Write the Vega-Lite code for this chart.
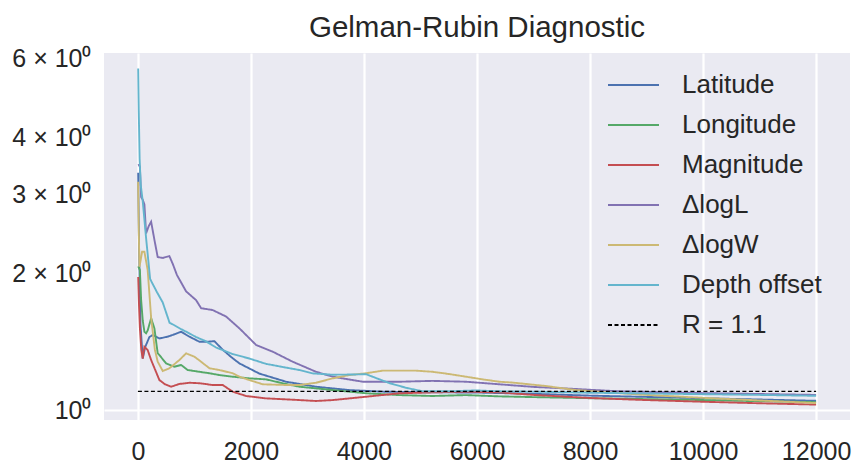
{
  "$schema": "https://vega.github.io/schema/vega-lite/v6.json",
  "width": 746,
  "height": 367,
  "autosize": {"type": "none"},
  "padding": {"left": 104, "top": 53, "right": 3, "bottom": 43},
  "background": "white",
  "title": {
    "text": "Gelman-Rubin Diagnostic",
    "font": "Liberation Sans",
    "fontSize": 29.5,
    "fontWeight": "normal",
    "color": "#262626",
    "anchor": "middle",
    "baseline": "alphabetic",
    "offset": 14,
    "dy": 34
  },
  "datasets": {
    "chains": [
      {"series": "Latitude", "iteration": 5, "rhat": 3.35},
      {"series": "Latitude", "iteration": 20, "rhat": 2.3},
      {"series": "Latitude", "iteration": 45, "rhat": 1.55},
      {"series": "Latitude", "iteration": 85, "rhat": 1.3},
      {"series": "Latitude", "iteration": 130, "rhat": 1.38},
      {"series": "Latitude", "iteration": 203, "rhat": 1.45},
      {"series": "Latitude", "iteration": 262, "rhat": 1.466},
      {"series": "Latitude", "iteration": 380, "rhat": 1.44},
      {"series": "Latitude", "iteration": 527, "rhat": 1.453},
      {"series": "Latitude", "iteration": 616, "rhat": 1.466},
      {"series": "Latitude", "iteration": 764, "rhat": 1.49},
      {"series": "Latitude", "iteration": 911, "rhat": 1.453},
      {"series": "Latitude", "iteration": 1088, "rhat": 1.416},
      {"series": "Latitude", "iteration": 1235, "rhat": 1.416},
      {"series": "Latitude", "iteration": 1353, "rhat": 1.42},
      {"series": "Latitude", "iteration": 1500, "rhat": 1.36},
      {"series": "Latitude", "iteration": 1650, "rhat": 1.31},
      {"series": "Latitude", "iteration": 1796, "rhat": 1.268},
      {"series": "Latitude", "iteration": 2149, "rhat": 1.204},
      {"series": "Latitude", "iteration": 2622, "rhat": 1.155},
      {"series": "Latitude", "iteration": 3152, "rhat": 1.126},
      {"series": "Latitude", "iteration": 3741, "rhat": 1.107},
      {"series": "Latitude", "iteration": 4331, "rhat": 1.098},
      {"series": "Latitude", "iteration": 5000, "rhat": 1.095},
      {"series": "Latitude", "iteration": 6000, "rhat": 1.093},
      {"series": "Latitude", "iteration": 7000, "rhat": 1.086},
      {"series": "Latitude", "iteration": 8000, "rhat": 1.076},
      {"series": "Latitude", "iteration": 9000, "rhat": 1.069},
      {"series": "Latitude", "iteration": 10000, "rhat": 1.062},
      {"series": "Latitude", "iteration": 11000, "rhat": 1.055},
      {"series": "Latitude", "iteration": 12000, "rhat": 1.048},

      {"series": "Longitude", "iteration": 5, "rhat": 2.08},
      {"series": "Longitude", "iteration": 35, "rhat": 2.04},
      {"series": "Longitude", "iteration": 57, "rhat": 1.75},
      {"series": "Longitude", "iteration": 85, "rhat": 1.58},
      {"series": "Longitude", "iteration": 115, "rhat": 1.49},
      {"series": "Longitude", "iteration": 145, "rhat": 1.478},
      {"series": "Longitude", "iteration": 173, "rhat": 1.5},
      {"series": "Longitude", "iteration": 234, "rhat": 1.596},
      {"series": "Longitude", "iteration": 292, "rhat": 1.516},
      {"series": "Longitude", "iteration": 350, "rhat": 1.335},
      {"series": "Longitude", "iteration": 380, "rhat": 1.323},
      {"series": "Longitude", "iteration": 499, "rhat": 1.268},
      {"series": "Longitude", "iteration": 646, "rhat": 1.247},
      {"series": "Longitude", "iteration": 764, "rhat": 1.258},
      {"series": "Longitude", "iteration": 881, "rhat": 1.226},
      {"series": "Longitude", "iteration": 1088, "rhat": 1.215},
      {"series": "Longitude", "iteration": 1265, "rhat": 1.206},
      {"series": "Longitude", "iteration": 1442, "rhat": 1.195},
      {"series": "Longitude", "iteration": 1677, "rhat": 1.185},
      {"series": "Longitude", "iteration": 1972, "rhat": 1.175},
      {"series": "Longitude", "iteration": 2268, "rhat": 1.169},
      {"series": "Longitude", "iteration": 2561, "rhat": 1.146},
      {"series": "Longitude", "iteration": 2857, "rhat": 1.126},
      {"series": "Longitude", "iteration": 3446, "rhat": 1.107},
      {"series": "Longitude", "iteration": 4037, "rhat": 1.089},
      {"series": "Longitude", "iteration": 4626, "rhat": 1.079},
      {"series": "Longitude", "iteration": 5215, "rhat": 1.074},
      {"series": "Longitude", "iteration": 5806, "rhat": 1.079},
      {"series": "Longitude", "iteration": 6395, "rhat": 1.072},
      {"series": "Longitude", "iteration": 7000, "rhat": 1.068},
      {"series": "Longitude", "iteration": 8000, "rhat": 1.062},
      {"series": "Longitude", "iteration": 9000, "rhat": 1.057},
      {"series": "Longitude", "iteration": 10000, "rhat": 1.052},
      {"series": "Longitude", "iteration": 11000, "rhat": 1.046},
      {"series": "Longitude", "iteration": 12000, "rhat": 1.041},

      {"series": "Magnitude", "iteration": 5, "rhat": 1.97},
      {"series": "Magnitude", "iteration": 20, "rhat": 1.7},
      {"series": "Magnitude", "iteration": 35, "rhat": 1.52},
      {"series": "Magnitude", "iteration": 60, "rhat": 1.36},
      {"series": "Magnitude", "iteration": 85, "rhat": 1.3},
      {"series": "Magnitude", "iteration": 115, "rhat": 1.38},
      {"series": "Magnitude", "iteration": 173, "rhat": 1.357},
      {"series": "Magnitude", "iteration": 234, "rhat": 1.29},
      {"series": "Magnitude", "iteration": 292, "rhat": 1.239},
      {"series": "Magnitude", "iteration": 380, "rhat": 1.165},
      {"series": "Magnitude", "iteration": 480, "rhat": 1.14},
      {"series": "Magnitude", "iteration": 587, "rhat": 1.126},
      {"series": "Magnitude", "iteration": 734, "rhat": 1.142},
      {"series": "Magnitude", "iteration": 911, "rhat": 1.149},
      {"series": "Magnitude", "iteration": 1088, "rhat": 1.146},
      {"series": "Magnitude", "iteration": 1323, "rhat": 1.136},
      {"series": "Magnitude", "iteration": 1500, "rhat": 1.136},
      {"series": "Magnitude", "iteration": 1677, "rhat": 1.098},
      {"series": "Magnitude", "iteration": 1914, "rhat": 1.074},
      {"series": "Magnitude", "iteration": 2268, "rhat": 1.061},
      {"series": "Magnitude", "iteration": 2857, "rhat": 1.052},
      {"series": "Magnitude", "iteration": 3152, "rhat": 1.047},
      {"series": "Magnitude", "iteration": 3446, "rhat": 1.052},
      {"series": "Magnitude", "iteration": 4037, "rhat": 1.07},
      {"series": "Magnitude", "iteration": 4626, "rhat": 1.089},
      {"series": "Magnitude", "iteration": 5215, "rhat": 1.094},
      {"series": "Magnitude", "iteration": 5806, "rhat": 1.098},
      {"series": "Magnitude", "iteration": 6395, "rhat": 1.094},
      {"series": "Magnitude", "iteration": 7000, "rhat": 1.08},
      {"series": "Magnitude", "iteration": 8000, "rhat": 1.063},
      {"series": "Magnitude", "iteration": 9000, "rhat": 1.052},
      {"series": "Magnitude", "iteration": 10000, "rhat": 1.043},
      {"series": "Magnitude", "iteration": 11000, "rhat": 1.035},
      {"series": "Magnitude", "iteration": 12000, "rhat": 1.028},

      {"series": "ΔlogL", "iteration": 10, "rhat": 3.5},
      {"series": "ΔlogL", "iteration": 35, "rhat": 3.45},
      {"series": "ΔlogL", "iteration": 57, "rhat": 2.96},
      {"series": "ΔlogL", "iteration": 85, "rhat": 2.92},
      {"series": "ΔlogL", "iteration": 115, "rhat": 2.85},
      {"series": "ΔlogL", "iteration": 145, "rhat": 2.46},
      {"series": "ΔlogL", "iteration": 190, "rhat": 2.55},
      {"series": "ΔlogL", "iteration": 234, "rhat": 2.61},
      {"series": "ΔlogL", "iteration": 292, "rhat": 2.38},
      {"series": "ΔlogL", "iteration": 350, "rhat": 2.18},
      {"series": "ΔlogL", "iteration": 439, "rhat": 2.17},
      {"series": "ΔlogL", "iteration": 557, "rhat": 2.19},
      {"series": "ΔlogL", "iteration": 620, "rhat": 2.1},
      {"series": "ΔlogL", "iteration": 690, "rhat": 1.99},
      {"series": "ΔlogL", "iteration": 853, "rhat": 1.83},
      {"series": "ΔlogL", "iteration": 1030, "rhat": 1.75},
      {"series": "ΔlogL", "iteration": 1118, "rhat": 1.68},
      {"series": "ΔlogL", "iteration": 1323, "rhat": 1.664},
      {"series": "ΔlogL", "iteration": 1560, "rhat": 1.61},
      {"series": "ΔlogL", "iteration": 1796, "rhat": 1.516},
      {"series": "ΔlogL", "iteration": 2091, "rhat": 1.393},
      {"series": "ΔlogL", "iteration": 2385, "rhat": 1.346},
      {"series": "ΔlogL", "iteration": 2738, "rhat": 1.279},
      {"series": "ΔlogL", "iteration": 3152, "rhat": 1.215},
      {"series": "ΔlogL", "iteration": 3446, "rhat": 1.185},
      {"series": "ΔlogL", "iteration": 3977, "rhat": 1.155},
      {"series": "ΔlogL", "iteration": 4626, "rhat": 1.155},
      {"series": "ΔlogL", "iteration": 5215, "rhat": 1.16},
      {"series": "ΔlogL", "iteration": 5806, "rhat": 1.155},
      {"series": "ΔlogL", "iteration": 6395, "rhat": 1.14},
      {"series": "ΔlogL", "iteration": 7000, "rhat": 1.125},
      {"series": "ΔlogL", "iteration": 7750, "rhat": 1.113},
      {"series": "ΔlogL", "iteration": 8500, "rhat": 1.1},
      {"series": "ΔlogL", "iteration": 9000, "rhat": 1.097},
      {"series": "ΔlogL", "iteration": 10000, "rhat": 1.09},
      {"series": "ΔlogL", "iteration": 11000, "rhat": 1.085},
      {"series": "ΔlogL", "iteration": 12000, "rhat": 1.08},

      {"series": "ΔlogW", "iteration": 3, "rhat": 3.2},
      {"series": "ΔlogW", "iteration": 15, "rhat": 2.5},
      {"series": "ΔlogW", "iteration": 27, "rhat": 2.075},
      {"series": "ΔlogW", "iteration": 50, "rhat": 2.15},
      {"series": "ΔlogW", "iteration": 74, "rhat": 2.24},
      {"series": "ΔlogW", "iteration": 115, "rhat": 2.24},
      {"series": "ΔlogW", "iteration": 173, "rhat": 2.04},
      {"series": "ΔlogW", "iteration": 234, "rhat": 1.6},
      {"series": "ΔlogW", "iteration": 300, "rhat": 1.36},
      {"series": "ΔlogW", "iteration": 350, "rhat": 1.28},
      {"series": "ΔlogW", "iteration": 439, "rhat": 1.22},
      {"series": "ΔlogW", "iteration": 557, "rhat": 1.237},
      {"series": "ΔlogW", "iteration": 734, "rhat": 1.29},
      {"series": "ΔlogW", "iteration": 853, "rhat": 1.335},
      {"series": "ΔlogW", "iteration": 1000, "rhat": 1.312},
      {"series": "ΔlogW", "iteration": 1118, "rhat": 1.279},
      {"series": "ΔlogW", "iteration": 1265, "rhat": 1.237},
      {"series": "ΔlogW", "iteration": 1442, "rhat": 1.226},
      {"series": "ΔlogW", "iteration": 1677, "rhat": 1.206},
      {"series": "ΔlogW", "iteration": 1796, "rhat": 1.185},
      {"series": "ΔlogW", "iteration": 1972, "rhat": 1.165},
      {"series": "ΔlogW", "iteration": 2208, "rhat": 1.14},
      {"series": "ΔlogW", "iteration": 2622, "rhat": 1.136},
      {"series": "ΔlogW", "iteration": 2857, "rhat": 1.136},
      {"series": "ΔlogW", "iteration": 3152, "rhat": 1.149},
      {"series": "ΔlogW", "iteration": 3446, "rhat": 1.175},
      {"series": "ΔlogW", "iteration": 3741, "rhat": 1.195},
      {"series": "ΔlogW", "iteration": 4037, "rhat": 1.206},
      {"series": "ΔlogW", "iteration": 4331, "rhat": 1.222},
      {"series": "ΔlogW", "iteration": 4626, "rhat": 1.222},
      {"series": "ΔlogW", "iteration": 4921, "rhat": 1.222},
      {"series": "ΔlogW", "iteration": 5215, "rhat": 1.215},
      {"series": "ΔlogW", "iteration": 5510, "rhat": 1.201},
      {"series": "ΔlogW", "iteration": 5806, "rhat": 1.185},
      {"series": "ΔlogW", "iteration": 6100, "rhat": 1.169},
      {"series": "ΔlogW", "iteration": 6395, "rhat": 1.155},
      {"series": "ΔlogW", "iteration": 6630, "rhat": 1.15},
      {"series": "ΔlogW", "iteration": 7221, "rhat": 1.13},
      {"series": "ΔlogW", "iteration": 7752, "rhat": 1.107},
      {"series": "ΔlogW", "iteration": 8500, "rhat": 1.09},
      {"series": "ΔlogW", "iteration": 9000, "rhat": 1.08},
      {"series": "ΔlogW", "iteration": 10000, "rhat": 1.064},
      {"series": "ΔlogW", "iteration": 11000, "rhat": 1.05},
      {"series": "ΔlogW", "iteration": 12000, "rhat": 1.036},

      {"series": "Depth offset", "iteration": 5, "rhat": 5.7},
      {"series": "Depth offset", "iteration": 15, "rhat": 4.6},
      {"series": "Depth offset", "iteration": 30, "rhat": 3.6},
      {"series": "Depth offset", "iteration": 50, "rhat": 3.15},
      {"series": "Depth offset", "iteration": 85, "rhat": 2.9},
      {"series": "Depth offset", "iteration": 145, "rhat": 2.4},
      {"series": "Depth offset", "iteration": 216, "rhat": 1.95},
      {"series": "Depth offset", "iteration": 262, "rhat": 1.9},
      {"series": "Depth offset", "iteration": 340, "rhat": 1.82},
      {"series": "Depth offset", "iteration": 439, "rhat": 1.73},
      {"series": "Depth offset", "iteration": 560, "rhat": 1.56},
      {"series": "Depth offset", "iteration": 646, "rhat": 1.54},
      {"series": "Depth offset", "iteration": 764, "rhat": 1.51},
      {"series": "Depth offset", "iteration": 900, "rhat": 1.48},
      {"series": "Depth offset", "iteration": 1030, "rhat": 1.45},
      {"series": "Depth offset", "iteration": 1200, "rhat": 1.42},
      {"series": "Depth offset", "iteration": 1383, "rhat": 1.375},
      {"series": "Depth offset", "iteration": 1677, "rhat": 1.33},
      {"series": "Depth offset", "iteration": 1972, "rhat": 1.3},
      {"series": "Depth offset", "iteration": 2268, "rhat": 1.265},
      {"series": "Depth offset", "iteration": 2563, "rhat": 1.245},
      {"series": "Depth offset", "iteration": 2856, "rhat": 1.226},
      {"series": "Depth offset", "iteration": 3092, "rhat": 1.205},
      {"series": "Depth offset", "iteration": 3446, "rhat": 1.197},
      {"series": "Depth offset", "iteration": 3741, "rhat": 1.198},
      {"series": "Depth offset", "iteration": 4037, "rhat": 1.2},
      {"series": "Depth offset", "iteration": 4214, "rhat": 1.177},
      {"series": "Depth offset", "iteration": 4449, "rhat": 1.147},
      {"series": "Depth offset", "iteration": 4744, "rhat": 1.12},
      {"series": "Depth offset", "iteration": 5038, "rhat": 1.1},
      {"series": "Depth offset", "iteration": 5510, "rhat": 1.1},
      {"series": "Depth offset", "iteration": 5983, "rhat": 1.105},
      {"series": "Depth offset", "iteration": 6395, "rhat": 1.1},
      {"series": "Depth offset", "iteration": 7000, "rhat": 1.098},
      {"series": "Depth offset", "iteration": 8000, "rhat": 1.092},
      {"series": "Depth offset", "iteration": 9000, "rhat": 1.088},
      {"series": "Depth offset", "iteration": 10000, "rhat": 1.084},
      {"series": "Depth offset", "iteration": 11000, "rhat": 1.08},
      {"series": "Depth offset", "iteration": 12000, "rhat": 1.075}
    ],
    "threshold": [
      {"series": "R = 1.1", "iteration": 0, "rhat": 1.1},
      {"series": "R = 1.1", "iteration": 12000, "rhat": 1.1}
    ]
  },
  "encoding": {
    "x": {
      "field": "iteration",
      "type": "quantitative",
      "scale": {"domain": [-600, 12600], "nice": false, "zero": false},
      "axis": {
        "title": null,
        "values": [0, 2000, 4000, 6000, 8000, 10000, 12000],
        "format": "d",
        "labelPadding": 19
      }
    },
    "y": {
      "field": "rhat",
      "type": "quantitative",
      "scale": {"type": "log", "domain": [0.9504, 6.165], "nice": false},
      "axis": {
        "title": null,
        "values": [1, 2, 3, 4, 6],
        "labelExpr": "datum.value === 1 ? '10⁰' : datum.value + ' × 10⁰'",
        "labelPadding": 13,
        "gridOpacity": {"condition": {"test": "datum.value === 1", "value": 1}, "value": 0}
      }
    },
    "color": {
      "field": "series",
      "type": "nominal",
      "scale": {
        "domain": ["Latitude", "Longitude", "Magnitude", "ΔlogL", "ΔlogW", "Depth offset", "R = 1.1"],
        "range": ["#4C72B0", "#55A868", "#C44E52", "#8172B2", "#CCB974", "#64B5CD", "#000000"]
      },
      "legend": {"title": null}
    },
    "strokeDash": {
      "field": "series",
      "type": "nominal",
      "scale": {
        "domain": ["Latitude", "Longitude", "Magnitude", "ΔlogL", "ΔlogW", "Depth offset", "R = 1.1"],
        "range": [[1, 0], [1, 0], [1, 0], [1, 0], [1, 0], [1, 0], [4, 2.5]]
      },
      "legend": {"title": null}
    }
  },
  "layer": [
    {
      "data": {"name": "chains"},
      "mark": {"type": "line", "strokeWidth": 1.9}
    },
    {
      "data": {"name": "threshold"},
      "mark": {"type": "line", "strokeWidth": 1.2}
    }
  ],
  "config": {
    "view": {"fill": "#EAEAF2", "stroke": null},
    "axis": {
      "domain": false,
      "ticks": false,
      "grid": true,
      "gridColor": "#FFFFFF",
      "gridWidth": 2.2,
      "labelFont": "Liberation Sans",
      "labelFontSize": 25,
      "labelColor": "#262626"
    },
    "legend": {
      "orient": "none",
      "legendX": 503,
      "legendY": 5.5,
      "padding": 0,
      "symbolType": "stroke",
      "symbolSize": 2601,
      "symbolStrokeWidth": 2,
      "labelFont": "Liberation Sans",
      "labelFontSize": 26,
      "labelColor": "#262626",
      "labelOffset": 22,
      "labelLimit": 400,
      "rowPadding": 0
    }
  }
}
